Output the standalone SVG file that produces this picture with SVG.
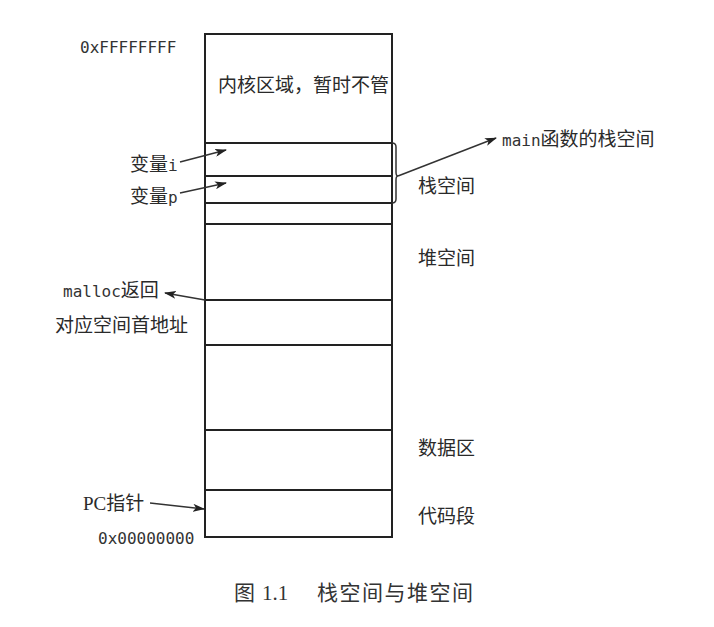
<svg xmlns="http://www.w3.org/2000/svg" width="714" height="627" viewBox="0 0 714 627">
<style>
.b{fill:none;stroke:#222;stroke-width:2}
.l{fill:none;stroke:#333;stroke-width:1.5}
.cj{font-family:"Liberation Serif","Noto Sans CJK SC",serif;font-size:19px;fill:#2a2a2a}
.mo{font-family:"DejaVu Sans Mono","Liberation Mono","Noto Sans CJK SC",monospace;font-size:16px;fill:#333}
.cap{font-family:"Liberation Serif","Noto Sans CJK SC",serif;font-size:21px;fill:#333}
</style>
<defs>
<marker id="ah" markerWidth="12" markerHeight="8" refX="11" refY="4" orient="auto" markerUnits="userSpaceOnUse">
<path d="M0,0 L12,4 L0,8 L3,4 Z" fill="#222"/>
</marker>
</defs>
<rect width="714" height="627" fill="#fff"/>
<g id="memory">
<rect class="b" x="205" y="34" width="187" height="503"/>
<line class="b" x1="205" y1="143" x2="392" y2="143"/>
<line class="b" x1="205" y1="176" x2="392" y2="176"/>
<line class="b" x1="205" y1="203" x2="392" y2="203"/>
<line class="b" x1="205" y1="224" x2="392" y2="224"/>
<line class="b" x1="205" y1="300" x2="392" y2="300"/>
<line class="b" x1="205" y1="345" x2="392" y2="345"/>
<line class="b" x1="205" y1="430" x2="392" y2="430"/>
<line class="b" x1="205" y1="490" x2="392" y2="490"/>
<text class="cj" x="218" y="92">内核区域，暂时不管</text>
</g>
<g id="labels">
<text class="mo" x="80" y="53">0xFFFFFFFF</text>
<text class="mo" x="98" y="544">0x00000000</text>
<text class="cj" x="130" y="171">变量<tspan class="mo">i</tspan></text>
<text class="cj" x="130" y="203">变量<tspan class="mo">p</tspan></text>
<text class="cj" x="63" y="297"><tspan class="mo">malloc</tspan>返回</text>
<text class="cj" x="55" y="332">对应空间首地址</text>
<text class="cj" x="83" y="510">PC指针</text>
<text class="cj" x="418" y="193">栈空间</text>
<text class="cj" x="418" y="265">堆空间</text>
<text class="cj" x="418" y="455">数据区</text>
<text class="cj" x="418" y="523">代码段</text>
<text class="cj" x="502" y="146"><tspan class="mo">main</tspan>函数的栈空间</text>
<text class="cap" x="234" y="600">图</text>
<text class="cap" x="262" y="600">1.1</text>
<text class="cap" x="317" y="600" letter-spacing="1.5">栈空间与堆空间</text>
</g>
<g id="connectors">
<path class="l" d="M392,143 Q396,143 396,147 L396,172 Q396,176 398,176 Q396,176 396,180 L396,199 Q396,203 392,203"/>
<line class="l" x1="398" y1="176" x2="496" y2="138" marker-end="url(#ah)"/>
<line class="l" x1="180" y1="162" x2="226" y2="150" marker-end="url(#ah)"/>
<line class="l" x1="180" y1="193" x2="226" y2="183" marker-end="url(#ah)"/>
<line class="l" x1="205" y1="300" x2="165" y2="293" marker-end="url(#ah)"/>
<line class="l" x1="150" y1="503" x2="204" y2="509" marker-end="url(#ah)"/>
</g>
</svg>
